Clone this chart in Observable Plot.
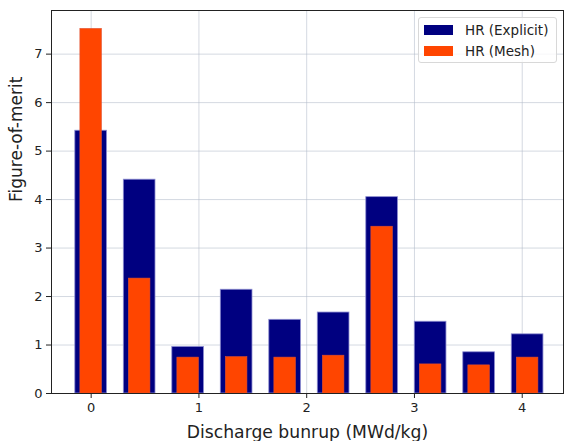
<!DOCTYPE html>
<html><head><meta charset="utf-8">
<script src="https://cdn.jsdelivr.net/npm/d3@7"></script>
<script src="https://cdn.jsdelivr.net/npm/@observablehq/plot@0.6"></script>
<style>
body{margin:0;background:#fff;font-family:"DejaVu Sans",sans-serif;}
#wrap{position:relative;width:564px;height:441px;}
#legend{position:absolute;left:418px;top:17px;width:139px;height:46px;border:1px solid #d8d8d8;border-radius:3px;background:rgba(255,255,255,0.8);font-size:13.5px;color:#222;box-sizing:border-box;}
#legend .row{position:absolute;left:5px;display:flex;align-items:center;}
#legend .sw{width:29px;height:10px;margin-right:12px;}
</style></head>
<body><div id="wrap"><div id="chart"></div>
<div id="legend">
<div class="row" style="top:4px"><span class="sw" style="background:#000080"></span><span>HR (Explicit)</span></div>
<div class="row" style="top:25px"><span class="sw" style="background:#ff4500"></span><span>HR (Mesh)</span></div>
</div></div>
<script>
const burnup = [0, 0.45, 0.9, 1.35, 1.8, 2.25, 2.7, 3.15, 3.6, 4.05];
const explicitFom = [5.42, 4.41, 0.96, 2.14, 1.52, 1.67, 4.05, 1.48, 0.85, 1.22];
const meshFom = [7.52, 2.37, 0.74, 0.75, 0.74, 0.78, 3.44, 0.60, 0.58, 0.74];
const xTicks = [0, 1, 2, 3, 4];
const yTicks = [0, 1, 2, 3, 4, 5, 6, 7];
const explicitWidth = 0.294, meshWidth = 0.2;

const expData = burnup.map((x, i) => ({x, y: explicitFom[i]}));
const meshData = burnup.map((x, i) => ({x, y: meshFom[i]}));

const chart = Plot.plot({
  width: 564, height: 441,
  marginLeft: 51, marginRight: 1, marginTop: 10, marginBottom: 48,
  style: {fontFamily: "DejaVu Sans, sans-serif", fontSize: "13px", color: "#222"},
  x: {domain: [-0.368, 4.383], axis: null},
  y: {domain: [0, 7.9], axis: null},
  marks: [
    Plot.gridX(xTicks, {stroke: "#b0bac8", strokeOpacity: 0.55}),
    Plot.gridY(yTicks, {stroke: "#b0bac8", strokeOpacity: 0.55}),
    Plot.rectY(expData, {x1: d => d.x - explicitWidth/2, x2: d => d.x + explicitWidth/2, y1: 0, y2: "y", fill: "#000080", stroke: "#8c8cd0", strokeWidth: 0.8}),
    Plot.rectY(meshData, {x1: d => d.x - meshWidth/2, x2: d => d.x + meshWidth/2, y1: 0, y2: "y", fill: "#ff4500", stroke: "#e05030", strokeWidth: 0.6}),
    Plot.frame({stroke: "#222", strokeWidth: 1}),
    Plot.axisX(xTicks, {tickSize: 5, tickPadding: 4, fontSize: 13, tickFormat: d => String(d), label: null}),
    Plot.axisY(yTicks, {tickSize: 5, tickPadding: 4, fontSize: 13, tickFormat: d => String(d), label: null}),
    Plot.text(["Discharge bunrup (MWd/kg)"], {frameAnchor: "bottom", dy: 39, lineAnchor: "middle", fontSize: 17.2, fill: "#222"}),
    Plot.text(["Figure-of-merit"], {frameAnchor: "left", dx: -34.5, rotate: -90, fontSize: 17, fill: "#222"})
  ]
});
document.getElementById("chart").appendChild(chart);
</script>
</body></html>
